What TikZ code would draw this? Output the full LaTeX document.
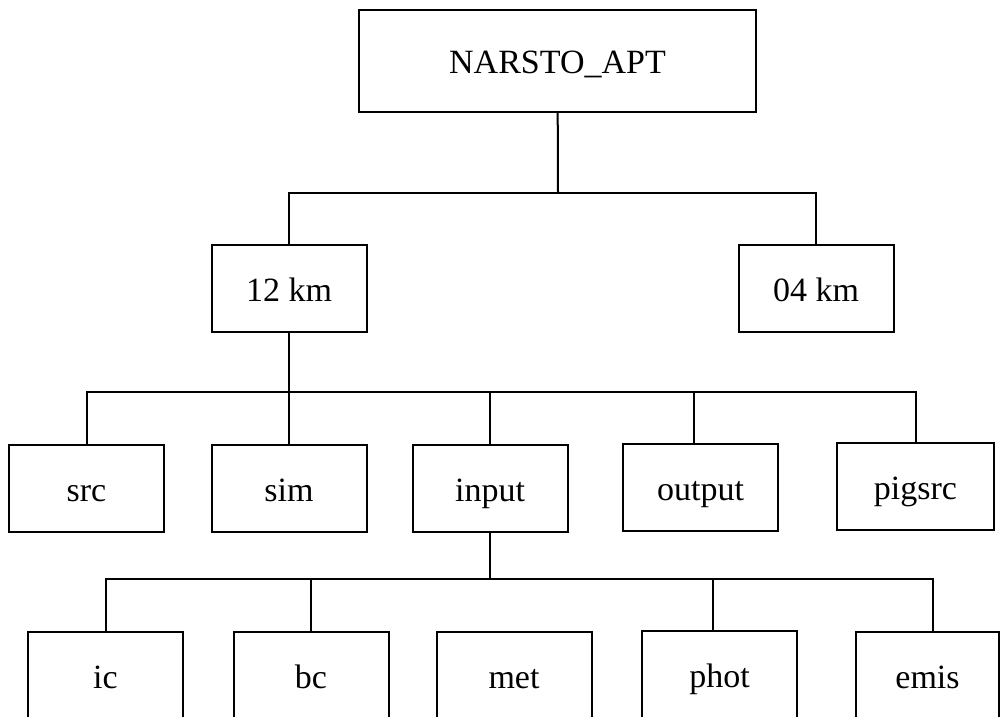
\documentclass[tikz,border=0pt]{standalone}
\usepackage{fontspec}
\setmainfont{Liberation Serif}

\begin{document}
\begin{tikzpicture}[x=1pt, y=-1pt, line width=2pt,
	box/.style={draw, minimum width=155pt, minimum height=87pt, inner sep=0pt,
		text height=30pt, text depth=4pt, font=\fontsize{34}{40}\selectfont}]
	\useasboundingbox (0, 0) rectangle (1006, 717);
	% top
	\node[box, minimum width=397pt, minimum height=102pt] (root) at (557.5, 61) {NARSTO\_APT};
	\node[box] (km12) at (289, 288.5) {12 km};
	\node[box] (km04) at (816, 288) {04 km};
	% middle row
	\node[box] (src) at (86.5, 488) {src};
	\node[box] (sim) at (289, 488) {sim};
	\node[box] (input) at (490, 488) {input};
	\node[box] (output) at (700.5, 487) {output};
	\node[box, minimum width=157pt] (pigsrc) at (915.5, 486) {pigsrc};
	% bottom row, cut off at the bottom
	\node[box] (ic) at (105.5, 675.5) {ic};
	\node[box] (bc) at (311, 675.5) {bc};
	\node[box] (met) at (514, 675.5) {met};
	\node[box] (phot) at (719.5, 674.5) {phot};
	\node[box, minimum width=143pt] (emis) at (927.5, 675.5) {emis};

	\coordinate (bus1) at (558, 193);
	\coordinate (bus2) at (0, 392);
	\coordinate (bus3) at (0, 579);

	\draw (root) -- (bus1);
	\draw (km12.north) |- (bus1) -| (km04.north);

	\draw (km12.south) -- (sim.north);
	\draw (src.north) |- (pigsrc.north |- bus2) -- (pigsrc.north);
	\draw (input.north) -- (input.north |- bus2);
	\draw ([xshift=-7pt]output.north) -- ([xshift=-7pt]output.north |- bus2);

	\draw (input.south) -- (input.south |- bus3);
	\draw (ic.north) |- ([xshift=5pt]emis.north |- bus3) -- ([xshift=5pt]emis.north);
	\draw (bc.north) -- (bc.north |- bus3);
	\draw ([xshift=-7pt]phot.north) -- ([xshift=-7pt]phot.north |- bus3);
\end{tikzpicture}
\end{document}
